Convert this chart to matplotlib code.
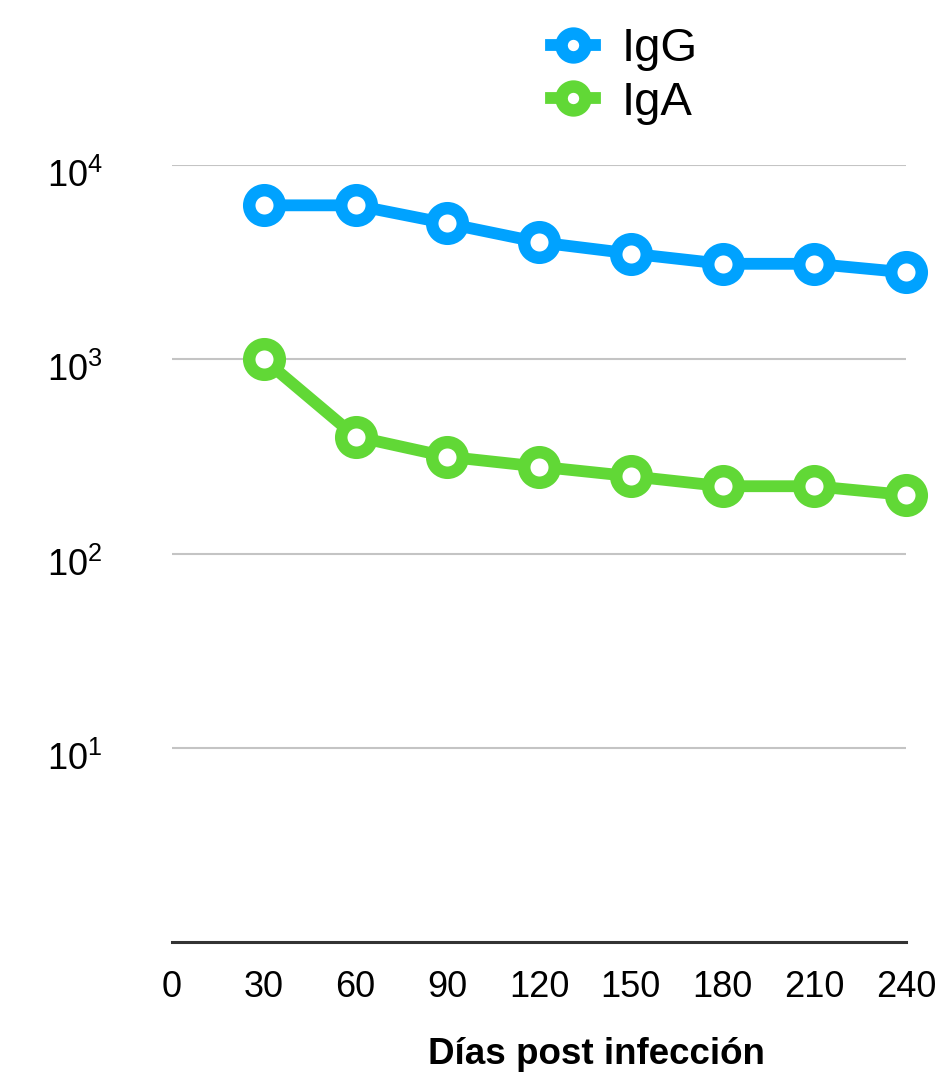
import matplotlib
matplotlib.use("Agg")
import matplotlib.pyplot as plt
import matplotlib.transforms as mtransforms

plt.rcParams["font.family"] = ["Liberation Sans", "DejaVu Sans"]
plt.rcParams["mathtext.default"] = "regular"

DAYS = [30, 60, 90, 120, 150, 180, 210, 240]
IGG = [6200, 6200, 5000, 4000, 3500, 3100, 3100, 2800]
IGA = [1000, 400, 315, 280, 250, 222, 222, 200]
XTICKS = [0, 30, 60, 90, 120, 150, 180, 210, 240]
YTICKS = [10, 100, 1000, 10000]
YLABELS = [r"$10^{1}$", r"$10^{2}$", r"$10^{3}$", r"$10^{4}$"]

BLUE = "#00A2FF"
GREEN = "#61D836"

W, H = 942, 1079
fig = plt.figure(figsize=(W / 100, H / 100), dpi=100)
ax = fig.add_axes([172 / W, 1 - 942 / H, (906 - 172) / W, (942 - 165) / H])

style = dict(lw=8.5, marker="o", ms=22, mew=9, mfc="white", clip_on=False, zorder=3)
ax.plot(DAYS, IGG, color=BLUE, label="IgG", **style)
ax.plot(DAYS, IGA, color=GREEN, label="IgA", **style)

ax.set_yscale("log")
ax.set_ylim(1, 10000)
ax.set_xlim(0, 240)
ax.set_yticks(YTICKS)
ax.set_yticklabels(YLABELS)
ax.yaxis.set_minor_locator(matplotlib.ticker.NullLocator())
ax.set_xticks(XTICKS)

for v in YTICKS:
    ax.axhline(v, color="#c4c4c4", lw=1.5, zorder=1)

for s in ["top", "right", "left"]:
    ax.spines[s].set_visible(False)
ax.spines["bottom"].set_color("#333333")
ax.spines["bottom"].set_linewidth(2.2)

ax.tick_params(axis="both", length=0, labelsize=26)
ax.tick_params(axis="x", pad=20)
ax.tick_params(axis="y", pad=50)

# y labels sit a little below their gridline in the reference
shift = mtransforms.ScaledTranslation(0, -8 / 100, fig.dpi_scale_trans)
for lbl in ax.get_yticklabels():
    lbl.set_transform(lbl.get_transform() + shift)

fig.text(596 / W, 1 - 1055 / H, "Días post infección", ha="center", va="center",
         fontsize=26.5, fontweight="bold")

leg = ax.legend(loc="center", bbox_to_anchor=(624 / W, 1 - 76 / H),
                bbox_transform=fig.transFigure, frameon=False, fontsize=34,
                handlelength=0.95, handletextpad=0.55, labelspacing=0.2,
                markerscale=0.78)

fig.savefig("out.png", dpi=100, facecolor="white")
